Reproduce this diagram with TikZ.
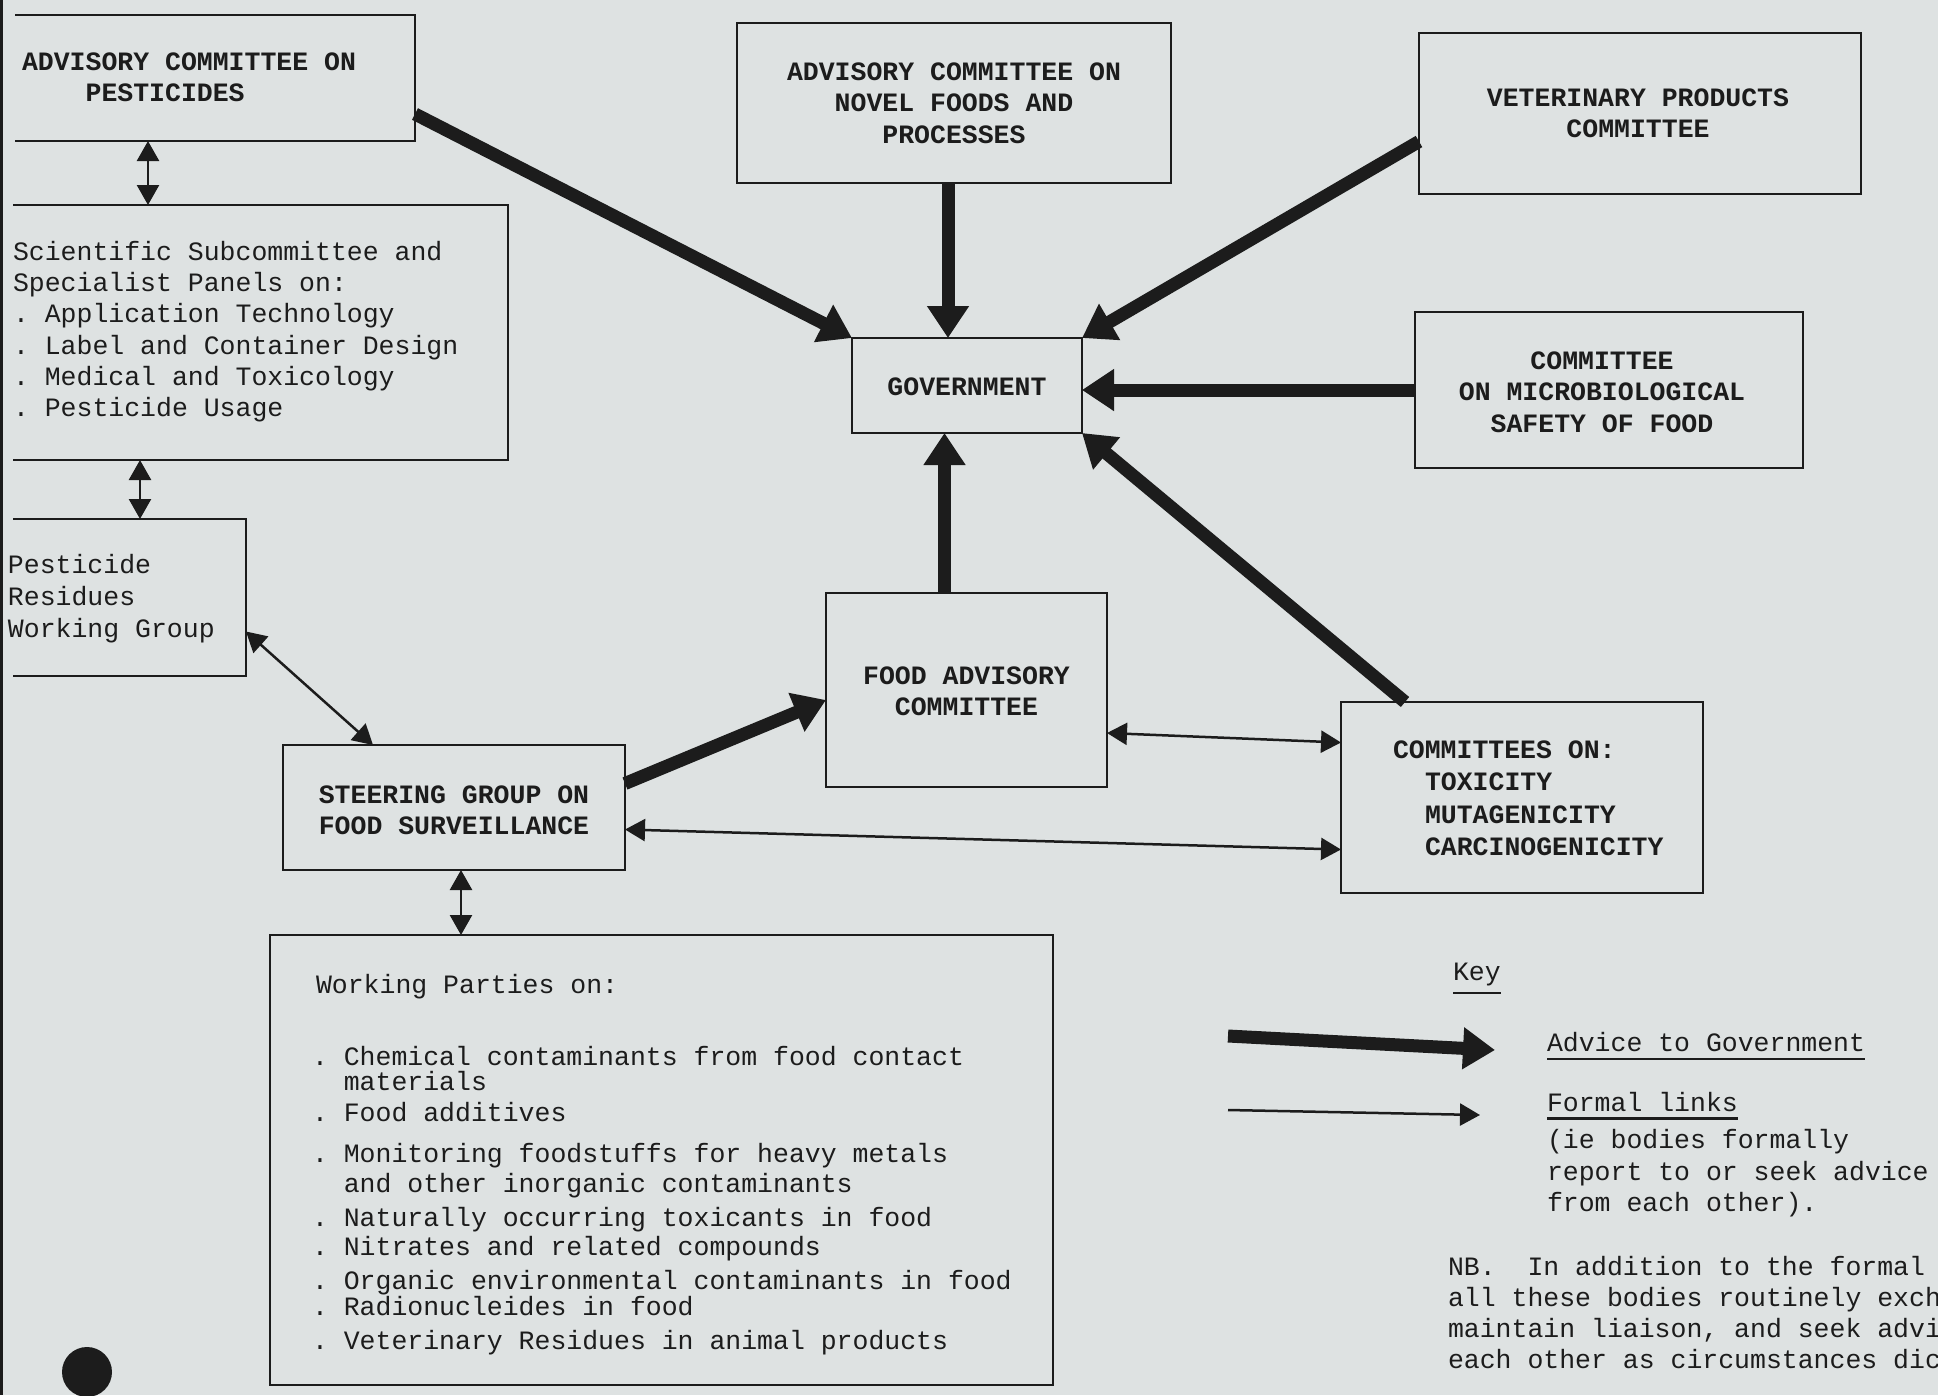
\documentclass[tikz,border=0pt]{standalone}
\usepackage{fontspec}
\setmonofont{Liberation Mono}
\usetikzlibrary{arrows.meta,fit}
\definecolor{paper}{RGB}{222,226,226}
\definecolor{ink}{RGB}{28,28,28}
\newcommand\keyul[1]{\vtop{\hbox{#1}\kern6pt\hrule height 2.2pt}}
\begin{document}
\begin{tikzpicture}[x=1pt,y=-1pt,
  every node/.style={inner sep=0pt, outer sep=0pt, text=ink},
  txt/.style={font=\ttfamily\fontsize{26.5}{31.8}\selectfont, anchor=mid west, yshift=-6pt},
  caps/.style={font=\ttfamily\bfseries\fontsize{26.5}{31.5}\selectfont, align=center},
  capsl/.style={font=\ttfamily\bfseries\fontsize{26.5}{31.5}\selectfont, anchor=mid west, yshift=-6pt},
  boxframe/.style={draw=ink, line width=2.5pt},
  adv/.style={draw=ink, line width=13pt, -{Triangle[length=32pt,width=40pt]}},
  link/.style={draw=ink, line width=2.5pt, {Triangle[length=20pt,width=22pt]}-{Triangle[length=20pt,width=22pt]}},
  onelink/.style={draw=ink, line width=2.5pt, -{Triangle[length=20pt,width=22pt]}}
]
\useasboundingbox (0,0) rectangle (1938,1395);
\fill[paper] (0,0) rectangle (1938,1395);
\draw[ink, line width=3pt] (1.5,0) -- (1.5,1395);

% ---- boxes ----
\node[fit={(15,15) (415,141)}] (acp) {};
\draw[boxframe] (acp.north west) -- (acp.north east) -- (acp.south east) -- (acp.south west);
\node[capsl] (acp1) at (22,62) {ADVISORY COMMITTEE ON};
\node[capsl] (acp2) at (22,93) {\phantom{XXXX}PESTICIDES};

\node[fit={(13,205) (508,460)}] (sci) {};
\draw[boxframe] (sci.north west) -- (sci.north east) -- (sci.south east) -- (sci.south west);
\node[txt] (sci1) at (13,252) {Scientific Subcommittee and};
\node[txt] (sci2) at (13,283) {Specialist Panels on:};
\node[txt] (sci3) at (13,314) {. Application Technology};
\node[txt] (sci4) at (13,346) {. Label and Container Design};
\node[txt] (sci5) at (13,377) {. Medical and Toxicology};
\node[txt] (sci6) at (13,408) {. Pesticide Usage};

\node[fit={(13,519) (246,676)}] (prwg) {};
\draw[boxframe] (prwg.north west) -- (prwg.north east) -- (prwg.south east) -- (prwg.south west);
\node[txt] (pr1) at (8,565) {Pesticide};
\node[txt] (pr2) at (8,597) {Residues};
\node[txt] (pr3) at (8,629) {Working Group};

\node[boxframe, fit={(737,23) (1171,183)}] (novel) {};
\node[caps] (novelt) at (novel.center) {ADVISORY COMMITTEE ON\\NOVEL FOODS AND\\PROCESSES};
\node[boxframe, fit={(852,338) (1082,433)}] (gov) {};
\node[caps] (govt) at ([yshift=-1pt]gov.center) {GOVERNMENT};
\node[boxframe, fit={(1419,33) (1861,194)}] (vet) {};
\node[caps] (vett) at ([xshift=-2pt]vet.center) {VETERINARY PRODUCTS\\COMMITTEE};
\node[boxframe, fit={(1415,312) (1803,468)}] (micro) {};
\node[caps] (microt) at ([xshift=-7pt,yshift=-2pt]micro.center) {COMMITTEE\\ON MICROBIOLOGICAL\\SAFETY OF FOOD};
\node[boxframe, fit={(826,593) (1107,787)}] (fac) {};
\node[caps] (fact) at ([yshift=-1.5pt]fac.center) {FOOD ADVISORY\\COMMITTEE};
\node[boxframe, fit={(1341,702) (1703,893)}] (comm) {};
\node[capsl] (comm1) at (1393,750) {COMMITTEES ON:};
\node[capsl] (comm2) at (1425,782) {TOXICITY};
\node[capsl] (comm3) at (1425,815) {MUTAGENICITY};
\node[capsl] (comm4) at (1425,847) {CARCINOGENICITY};
\node[boxframe, fit={(283,745) (625,870)}] (steer) {};
\node[caps] (steert) at ([yshift=-3pt]steer.center) {STEERING GROUP ON\\FOOD SURVEILLANCE};

\node[boxframe, fit={(270,935) (1053,1385)}] (wp) {};
\node[txt] (wp1) at (316,985) {Working Parties on:};
\node[txt] (wp2) at (312,1057) {. Chemical contaminants from food contact};
\node[txt] (wp3) at (312,1082) {\phantom{XX}materials};
\node[txt] (wp4) at (312,1113) {. Food additives};
\node[txt] (wp5) at (312,1154) {. Monitoring foodstuffs for heavy metals};
\node[txt] (wp6) at (312,1184) {\phantom{XX}and other inorganic contaminants};
\node[txt] (wp7) at (312,1218) {. Naturally occurring toxicants in food};
\node[txt] (wp8) at (312,1247) {. Nitrates and related compounds};
\node[txt] (wp9) at (312,1281) {. Organic environmental contaminants in food};
\node[txt] (wp10) at (312,1307) {. Radionucleides in food};
\node[txt] (wp11) at (312,1341) {. Veterinary Residues in animal products};

% ---- advice arrows ----
\draw[adv] ([yshift=27pt]acp.south east) -- (gov.north west);
\coordinate (n1) at ([xshift=-6pt]novel.south);
\draw[adv] (n1) -- (n1 |- gov.north);
\coordinate (v1) at ([yshift=-28pt]vet.west);
\draw[adv] (v1) -- (gov.north east);
\draw[adv] (micro.west) -- (micro.west -| gov.east);
\coordinate (f1) at ([xshift=-22pt]fac.north);
\draw[adv] (f1) -- (f1 |- gov.south);
\coordinate (c1) at ([xshift=64pt]comm.north west);
\draw[adv] (c1) -- (gov.south east);
\draw[adv] ([yshift=24pt]steer.east) -- ([yshift=-10pt]fac.west);

% ---- formal links ----
\draw[link] ([yshift=-43pt]fac.east) -- ([yshift=55pt]comm.west);
\draw[link] ([yshift=-22pt]steer.east) -- ([yshift=-52pt]comm.west);
\coordinate (a1) at ([xshift=133pt]acp.south west);
\draw[link] (a1) -- (a1 |- sci.north);
\coordinate (s1) at ([xshift=127pt]sci.south west);
\draw[link] (s1) -- (s1 |- prwg.north);
\draw[link] ([yshift=-34pt]prwg.east) -- ([xshift=90pt]steer.north west);
\coordinate (w1) at ([xshift=7pt]steer.south);
\draw[link] (w1) -- (w1 |- wp.north);

% ---- key ----
\node[txt] (key) at (1453,972) {\keyul{Key}};
\coordinate (ka1) at (1228,1036);
\coordinate (ka2) at (1495,1050);
\draw[adv] (ka1) -- (ka2);
\coordinate (kb1) at (1228,1110);
\coordinate (kb2) at (1480,1115);
\draw[onelink] (kb1) -- (kb2);
\node[txt] (k1) at (1547,1043) {\keyul{Advice to Government}};
\node[txt] (k2) at (1547,1103) {\keyul{Formal links}};
\node[txt] (k3) at (1547,1140) {(ie bodies formally};
\node[txt] (k4) at (1547,1172) {report to or seek advice};
\node[txt] (k5) at (1547,1203) {from each other).};
\node[txt] (nb1) at (1448,1267) {NB.\ \ In addition to the formal};
\node[txt] (nb2) at (1448,1298) {all these bodies routinely exch};
\node[txt] (nb3) at (1448,1329) {maintain liaison, and seek advi};
\node[txt] (nb4) at (1448,1360) {each other as circumstances dic};

\fill[ink] (87,1372) circle (25pt);
\end{tikzpicture}
\end{document}
